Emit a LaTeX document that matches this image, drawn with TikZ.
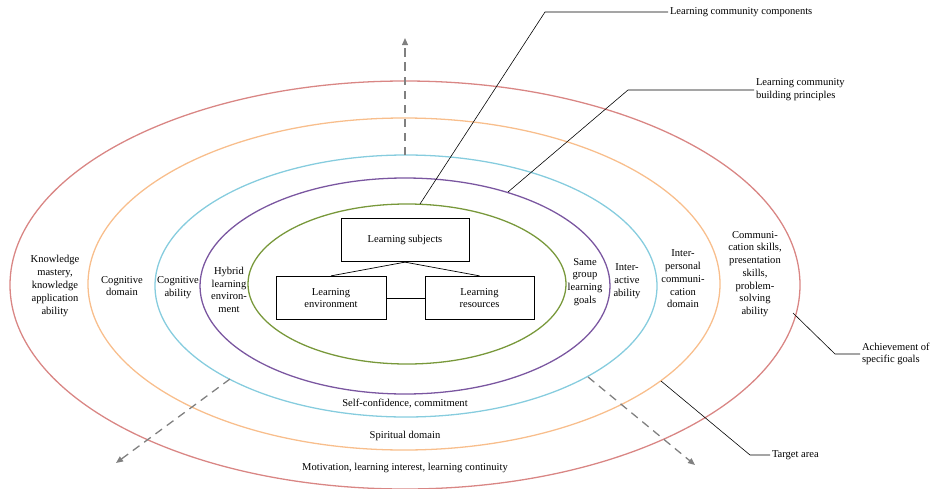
\documentclass[tikz,border=0pt]{standalone}
\usepackage{fontspec}
\setmainfont{Liberation Serif}
\usetikzlibrary{arrows.meta}
\usetikzlibrary{shapes}
\definecolor{ringred}{RGB}{217,134,132}
\definecolor{ringorange}{RGB}{248,190,140}
\definecolor{ringblue}{RGB}{134,204,222}
\definecolor{ringpurple}{RGB}{122,86,160}
\definecolor{ringgreen}{RGB}{120,152,58}

\begin{document}
\begin{tikzpicture}
      [x=0.3mm,y=-0.3mm,
        every node/.style={font=\fontsize{9}{10.9}\selectfont},
        txt/.style={align=center,inner sep=0pt},
        lbl/.style={align=left,anchor=west,inner sep=1.5pt},
        box/.style={draw,rectangle,line width=0.8pt,minimum height=13mm,align=center,inner sep=1pt},
        ring/.style={line width=1.1pt},
        axis/.style={draw=gray,line width=1.1pt,dash pattern=on 7pt off 5pt,-{Triangle[length=6pt,width=5pt]}},
        leader/.style={draw=black,line width=0.5pt}]
      \useasboundingbox (0,0) rectangle (933,488);
      \draw[ring,ringred] (405,285) ellipse [x radius=395, y radius=204];
      \draw[ring,ringorange] (404,284) ellipse [x radius=316, y radius=166];
      \draw[ring,ringblue] (406,286) ellipse [x radius=251, y radius=131];
      \draw[ring,ringpurple] (405,286) ellipse [x radius=205, y radius=108];
      \draw[ring,ringgreen] (407,284) ellipse [x radius=159, y radius=80];

      \node[box,minimum width=38.4mm] (subj) at (405,240) {Learning subjects};
      \node[box,minimum width=33mm] (env) at (331,298) {Learning\\environment};
      \node[box,minimum width=32.7mm] (res) at (479.5,298) {Learning\\resources};
      \draw[line width=0.6pt] (subj.south) -- (env.north);
      \draw[line width=0.6pt] (subj.south) -- (res.north);
      \draw[line width=0.6pt] (env.east) -- (res.west);

      \coordinate (up0) at (405,155);
      \coordinate (up1) at (405,38);
      \coordinate (dl0) at (230,379);
      \coordinate (dl1) at (116,463);
      \coordinate (dr0) at (588,377);
      \coordinate (dr1) at (695,465);
      \draw[axis] (up0) -- (up1);
      \draw[axis] (dl0) -- (dl1);
      \draw[axis] (dr0) -- (dr1);

      \node[txt] (km) at (55,286) {Knowledge\\mastery,\\knowledge\\application\\ability};
      \node[txt] (cd) at (122,286) {Cognitive\\domain};
      \node[txt] (ca) at (178,288) {Cognitive\\ability};
      \node[txt] (hle) at (229,290) {Hybrid\\learning\\environ-\\ment};
      \node[txt] (sg) at (585,282) {Same\\group\\learning\\goals};
      \node[txt] (ia) at (627,281) {Inter-\\active\\ability};
      \node[txt] (icd) at (683,279) {Inter-\\personal\\communi-\\cation\\domain};
      \node[txt] (cs) at (755,274) {Communi-\\cation skills,\\presentation\\skills,\\problem-\\solving\\ability};
      \node[txt] (sc) at (405,404) {Self-confidence, commitment};
      \node[txt] (sd) at (405,436) {Spiritual domain};
      \node[txt] (mot) at (405,468) {Motivation, learning interest, learning continuity};

      \coordinate (p1) at (420,204);
      \coordinate (q1) at (545,12);
      \node[lbl] (comp) at (668,12) {Learning community components};
      \draw[leader] (p1) -- (q1) -- (comp.west);
      \coordinate (p2) at (508,192);
      \coordinate (q2) at (628,90);
      \node[lbl] (prin) at (754,90) {Learning community\\building principles};
      \draw[leader] (p2) -- (q2) -- (prin.west);
      \coordinate (p3) at (793,313);
      \coordinate (q3) at (835,354);
      \node[lbl] (goal) at (860,354) {Achievement of\\specific goals};
      \draw[leader] (p3) -- (q3) -- (goal.west);
      \coordinate (p4) at (661,381);
      \coordinate (q4) at (750,455);
      \node[lbl] (targ) at (770,455) {Target area};
      \draw[leader] (p4) -- (q4) -- (targ.west);
\end{tikzpicture}
\end{document}
